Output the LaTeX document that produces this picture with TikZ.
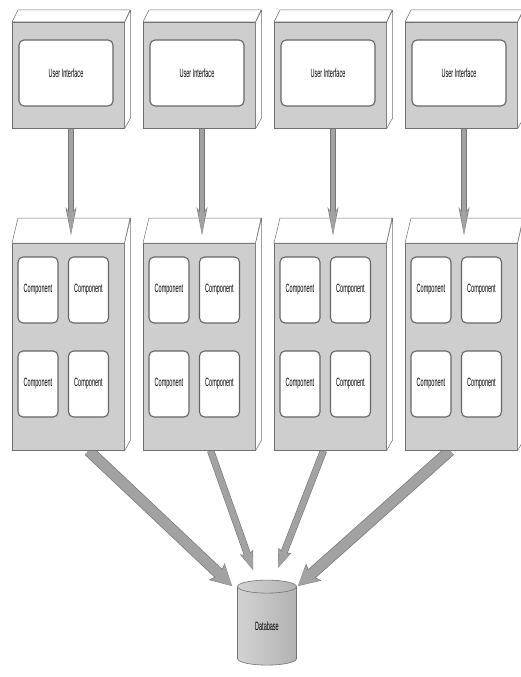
\documentclass[tikz,border=0pt]{standalone}
\usepackage{fontspec}
\setmainfont{Liberation Sans}
\usetikzlibrary{arrows.meta, calc, shapes.geometric, backgrounds}
\newcommand{\squeezed}[1]{\scalebox{0.46}[1]{#1}}

\begin{document}
\begin{tikzpicture}[x=1pt, y=-1pt,
        box/.style={draw=edgegray, fill=facegray, line width=0.6pt, minimum width=112pt, inner sep=0pt, anchor=north west},
        rim/.style={draw=edgegray, fill=white, line width=0.5pt, line join=round},
        panel/.style={draw=black!60, fill=white, rounded corners=5pt, line width=1.1pt, inner sep=0pt, font=\fontsize{12}{14}\selectfont},
        uiarrow/.style={draw=arrowgray, line width=4pt, -{Stealth[length=27pt, width=9pt, line width=0pt]},
                preaction={draw=arrowedge, line width=5.2pt, -{Stealth[length=28pt, width=11pt, line width=0pt]}}},
        widearrow/.style={draw=arrowgray, line width=10pt, -{Stealth[length=20pt, width=21pt, inset=4pt, line width=0pt]},
                preaction={draw=arrowedge, line width=11.4pt, -{Stealth[length=21pt, width=23pt, inset=4pt, line width=0pt]}}},
        slimarrow/.style={draw=arrowgray, line width=6pt, -{Stealth[length=18pt, width=12pt, inset=3pt, line width=0pt]},
                preaction={draw=arrowedge, line width=7.2pt, -{Stealth[length=19pt, width=14pt, inset=3pt, line width=0pt]}}},
        dbcyl/.style={cylinder, shape border rotate=90, aspect=0.55, minimum width=59pt, minimum height=85pt,
                draw=black!55, line width=0.6pt, left color=gray!35, middle color=white, right color=gray!60,
                inner sep=0pt, font=\fontsize{12}{14}\selectfont}]
    % Define Colors
    \definecolor{facegray}{RGB}{206, 206, 206}   % box front
    \definecolor{edgegray}{RGB}{112, 112, 112}   % box outline
    \definecolor{arrowgray}{RGB}{162, 162, 162}  % arrow body
    \definecolor{arrowedge}{RGB}{118, 118, 118}  % arrow outline

    \useasboundingbox (0,0) rectangle (520,677);

    % --- TIERS ---
    \foreach \i/\x in {1/12, 2/143, 3/274, 4/405} {
            % User interface box
            \node[box, minimum height=106pt] (ui\i) at (\x,22) {};
            \draw[rim] (ui\i.north west) -- ++(6,-12) -- ++(112,0) -- (ui\i.north east) -- cycle;
            \draw[rim] (ui\i.north east) -- ++(6,-12) -- ++(0,108) -- (ui\i.south east) -- cycle;
            \node[panel, minimum width=94pt, minimum height=66pt] (uip\i) at ($(ui\i.north west)+(54,51)$) {\squeezed{User Interface}};

            % Component box
            \node[box, minimum height=207pt] (cb\i) at (\x,243) {};
            \draw[rim] (cb\i.north west) -- ++(6,-25) -- ++(112,0) -- (cb\i.north east) -- cycle;
            \draw[rim] (cb\i.north east) -- ++(6,-25) -- ++(0,222) -- (cb\i.south east) -- cycle;
            \foreach \c/\dx/\dy in {a/26/47, b/76.5/47, c/26/141, d/76.5/141} {
                    \node[panel, minimum width=40pt, minimum height=66pt] (cp\i\c) at ($(cb\i.north west)+(\dx,\dy)$) {\squeezed{Component}};
                }

            % UI -> components
            \draw[uiarrow] ($(ui\i.south west)+(59,0)$) -- ($(cb\i.north west)+(59,-8)$);
        }

    % --- DATABASE ---
    \node[dbcyl] (db) at (267,626) {\squeezed{Database}};

    \begin{scope}[on background layer]
        \draw[widearrow] ($(cb1.south west)!0.68!(cb1.south east)$) -- ($(db.center)+(-35,-40)$);
        \draw[slimarrow] ($(cb2.south west)!0.60!(cb2.south east)$) -- ($(db.center)+(-14,-56)$);
        \draw[slimarrow] ($(cb3.south west)!0.44!(cb3.south east)$) -- ($(db.center)+(11,-58)$);
        \draw[widearrow] ($(cb4.south west)!0.40!(cb4.south east)$) -- ($(db.center)+(31,-40)$);
    \end{scope}

\end{tikzpicture}
\end{document}
